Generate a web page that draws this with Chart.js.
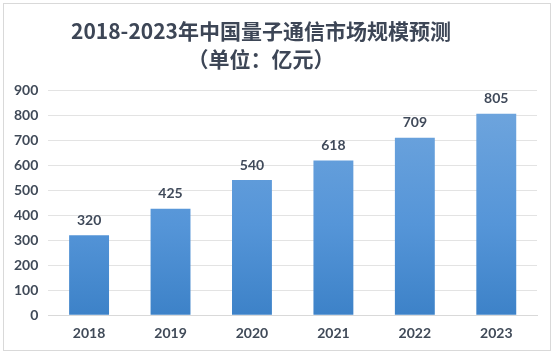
<!DOCTYPE html>
<html><head><meta charset="utf-8">
<script src="https://cdn.jsdelivr.net/npm/chart.js@4"></script>
<style>
html,body{margin:0;padding:0;background:#fff;}
#wrap{position:absolute;left:3px;top:3px;width:548px;height:348px;border:1px solid #d9d9d9;box-sizing:border-box;}
canvas{display:block;}
</style></head>
<body>
<div id="wrap"><canvas id="c" width="546" height="346"></canvas></div>
<script>
const categories = ['2018','2019','2020','2021','2022','2023'];
const values = [320, 425, 540, 618, 709, 805];
const yTicks = [0,100,200,300,400,500,600,700,800,900];
const titleLines = ['2018-2023年中国量子通信市场规模预测','（单位：亿元）'];

const font = "'Noto Sans CJK SC','Noto Sans',sans-serif";
const labelPlugin = {
  id:'labels',
  afterDatasetsDraw(chart){
    const ctx = chart.ctx;
    const meta = chart.getDatasetMeta(0);
    ctx.save();
    ctx.fillStyle = '#404a5a';
    ctx.font = "bold 14px 'Lato','Noto Sans',sans-serif";
    ctx.textAlign = 'center';
    ctx.textBaseline = 'bottom';
    meta.data.forEach((bar,i)=>{
      ctx.fillText(String(values[i]), bar.x, bar.y - 8);
    });
    // title, centred slightly left of canvas centre as in the reference
    ctx.fillStyle = '#3d4656';
    ctx.font = "bold 21px " + font;
    ctx.textBaseline = 'middle';
    ctx.fillText(titleLines[0], 257, 27);
    ctx.fillText(titleLines[1], 257, 55);
    ctx.restore();
  }
};

new Chart(document.getElementById('c'), {
  type:'bar',
  data:{
    labels:categories,
    datasets:[{
      data:values,
      backgroundColor(ctx){
        const ca = ctx.chart.chartArea;
        if(!ca) return '#5b9bd5';
        const g = ctx.chart.ctx.createLinearGradient(0, ca.top, 0, ca.bottom);
        g.addColorStop(0,'#72a7de');
        g.addColorStop(0.6,'#5595d8');
        g.addColorStop(1,'#3d82c8');
        return g;
      },
      borderWidth:0,
      categoryPercentage:1,
      barPercentage:0.49
    }]
  },
  options:{
    responsive:false,
    animation:false,
    layout:{padding:{left:0,right:13,top:0,bottom:6}},
    plugins:{
      legend:{display:false},
      tooltip:{enabled:false},
      title:{
        display:true,
        text:['',''],
        font:{family:font,size:20,lineHeight:1.4},
        padding:{top:12,bottom:18}
      }
    },
    scales:{
      x:{
        grid:{display:false},
        border:{display:true,color:'#d9d9d9'},
        ticks:{color:'#404a58',font:{family:"'Lato','Noto Sans',sans-serif",size:14,weight:'bold'},padding:2}
      },
      y:{
        min:0,max:900,
        afterBuildTicks(axis){axis.ticks = yTicks.map(v=>({value:v}));},
        grid:{color:'#e3e3e3',drawTicks:false},
        border:{display:false},
        ticks:{color:'#404a58',font:{family:"'Lato','Noto Sans',sans-serif",size:14,weight:'bold'},padding:10}
      }
    }
  },
  plugins:[labelPlugin]
});
</script>
</body></html>
